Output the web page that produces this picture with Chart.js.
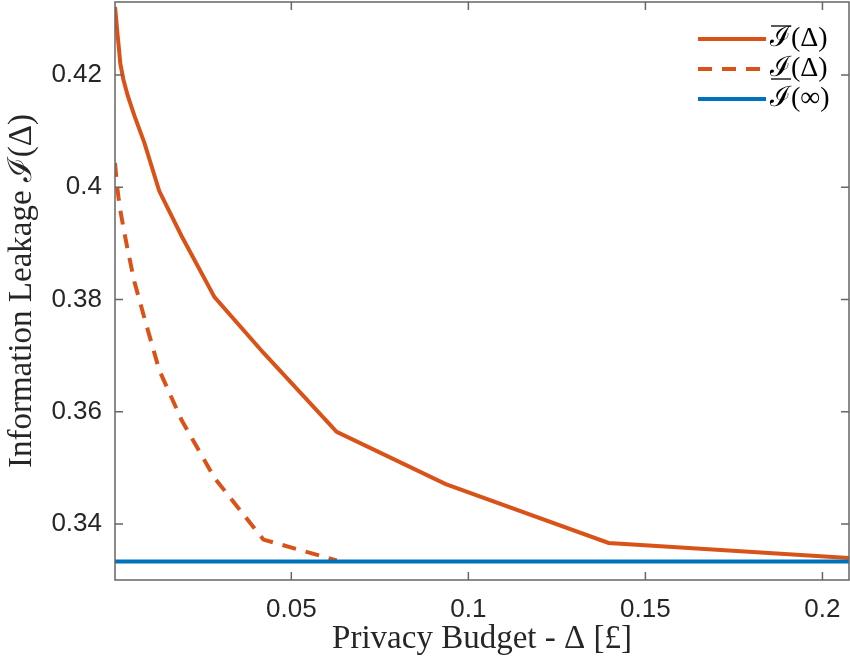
<!DOCTYPE html>
<html>
<head>
<meta charset="utf-8">
<script src="https://cdn.jsdelivr.net/npm/chart.js@4.4.0/dist/chart.umd.min.js"></script>
<style>
  html, body { margin: 0; padding: 0; background: #fff; }
  #wrap { width: 850px; height: 668px; }
</style>
</head>
<body>
<div id="wrap"><canvas id="leakChart"></canvas></div>
<script>
// privacy budget Δ (x) and leakage bounds
var budget = [0.0002, 0.0005, 0.0008, 0.0012, 0.0017, 0.0026, 0.0038, 0.0057, 0.0085,
              0.0127, 0.0190, 0.0283, 0.0421, 0.0628, 0.0936, 0.1396, 0.2075];
var upperLeak = [0.4321, 0.4302, 0.4280, 0.4254, 0.4220, 0.4191, 0.4163, 0.4127, 0.4079,
                 0.3993, 0.3913, 0.3804, 0.3705, 0.3564, 0.3471, 0.3366, 0.3339];
// lower bound merges into the limit after 0.0628 (hidden under the blue line)
var lowerLeak = [0.4043, 0.4022, 0.4002, 0.3981, 0.3959, 0.3927, 0.3888, 0.3831, 0.3767,
                 0.3674, 0.3585, 0.3482, 0.3372, 0.3335, null, null, null];
var limitLeak = [0.3333, 0.3333, 0.3333, 0.3333, 0.3333, 0.3333, 0.3333, 0.3333, 0.3333,
                 0.3333, 0.3333, 0.3333, 0.3333, 0.3333, 0.3333, 0.3333, 0.3333];

var seriesNames = ['ℐ(Δ)', 'ℐ(Δ)', 'ℐ(∞)'];
var seriesBars = ['over', 'under', ''];
var xTicks = [0.05, 0.1, 0.15, 0.2];
var yTicks = [0.34, 0.36, 0.38, 0.4, 0.42];

var orange = '#D95319';
var blue = '#0072BD';
var axisColor = '#666666';
var serif = "'Liberation Serif', 'DejaVu Serif', serif";
var sans = "'Liberation Sans', Arial, sans-serif";

function pts(ys) {
    return budget.map(function (b, i) { return { x: b, y: ys[i] }; });
}

// box around the plot with inward ticks on all four sides
var axesBox = {
    id: 'axesBox',
    afterDraw: function (chart) {
        var ctx = chart.ctx, a = chart.chartArea;
        var xs = chart.scales.x, ys = chart.scales.y;
        var tl = 8;
        ctx.save();
        ctx.strokeStyle = axisColor;
        ctx.lineWidth = 1.5;
        ctx.strokeRect(a.left, a.top, a.right - a.left, a.bottom - a.top);
        ctx.beginPath();
        xTicks.forEach(function (v) {
            var px = xs.getPixelForValue(v);
            ctx.moveTo(px, a.bottom); ctx.lineTo(px, a.bottom - tl);
            ctx.moveTo(px, a.top); ctx.lineTo(px, a.top + tl);
        });
        yTicks.forEach(function (v) {
            var py = ys.getPixelForValue(v);
            ctx.moveTo(a.left, py); ctx.lineTo(a.left + tl, py);
            ctx.moveTo(a.right, py); ctx.lineTo(a.right - tl, py);
        });
        ctx.stroke();
        ctx.restore();
    }
};

// legend in the top right corner, bar over / under the I
var barLegend = {
    id: 'barLegend',
    afterDraw: function (chart) {
        var ctx = chart.ctx, a = chart.chartArea;
        var x0 = a.right - 151, x1 = a.right - 83, tx = a.right - 79;
        ctx.save();
        ctx.font = '28px ' + serif;
        ctx.textBaseline = 'middle';
        chart.data.datasets.forEach(function (ds, i) {
            var y = a.top + 37 + i * 30;
            ctx.strokeStyle = ds.borderColor;
            ctx.lineWidth = ds.borderWidth;
            ctx.setLineDash(ds.borderDash || []);
            ctx.beginPath();
            ctx.moveTo(x0, y); ctx.lineTo(x1, y);
            ctx.stroke();
            ctx.setLineDash([]);
            ctx.fillStyle = '#000';
            ctx.fillText(seriesNames[i], tx, y);
            var w = ctx.measureText(seriesNames[i].charAt(0)).width;
            ctx.lineWidth = 1.3;
            ctx.strokeStyle = '#000';
            if (seriesBars[i] === 'over') {
                ctx.beginPath(); ctx.moveTo(tx + 1, y - 13); ctx.lineTo(tx + w, y - 13); ctx.stroke();
            } else if (seriesBars[i] === 'under') {
                ctx.beginPath(); ctx.moveTo(tx + 1, y + 10); ctx.lineTo(tx + w, y + 10); ctx.stroke();
            }
        });
        ctx.restore();
    }
};

new Chart(document.getElementById('leakChart'), {
    type: 'line',
    data: {
        datasets: [{
            label: seriesNames[0],
            data: pts(upperLeak),
            borderColor: orange,
            borderWidth: 4,
            order: 2
        }, {
            label: seriesNames[1],
            data: pts(lowerLeak),
            borderColor: orange,
            borderWidth: 4,
            borderDash: [14, 10],
            order: 1
        }, {
            label: seriesNames[2],
            data: pts(limitLeak),
            borderColor: blue,
            borderWidth: 4,
            order: 0
        }]
    },
    options: {
        responsive: true,
        maintainAspectRatio: false,
        animation: false,
        layout: { padding: { top: 2, right: 1, left: 0, bottom: 0 } },
        elements: { point: { radius: 0 }, line: { tension: 0, fill: false } },
        plugins: { legend: { display: false }, tooltip: { enabled: false } },
        scales: {
            x: {
                type: 'linear',
                min: budget[0],
                max: budget[budget.length - 1],
                grid: { display: false, drawTicks: false },
                border: { display: false },
                afterBuildTicks: function (s) { s.ticks = xTicks.map(function (v) { return { value: v }; }); },
                afterFit: function (s) { s.height = 88; s.paddingLeft = 0; s.paddingRight = 0; },
                ticks: {
                    padding: 14,
                    color: '#262626',
                    font: { family: sans, size: 26 },
                    callback: function (v) { return String(v); }
                },
                title: {
                    display: true,
                    text: 'Privacy Budget - Δ [£]',
                    color: '#262626',
                    font: { family: serif, size: 33 },
                    padding: { top: 0, bottom: 9 }
                }
            },
            y: {
                type: 'linear',
                min: 0.33,
                max: 0.433,
                grid: { display: false, drawTicks: false },
                border: { display: false },
                afterBuildTicks: function (s) { s.ticks = yTicks.map(function (v) { return { value: v }; }); },
                afterFit: function (s) { s.width = 115; s.paddingTop = 0; s.paddingBottom = 0; },
                ticks: {
                    padding: 13,
                    color: '#262626',
                    font: { family: sans, size: 26 },
                    callback: function (v) { return String(v); }
                },
                title: {
                    display: true,
                    text: 'Information Leakage ℐ(Δ)',
                    color: '#262626',
                    font: { family: serif, size: 33 },
                    padding: { top: 3, bottom: 0 }
                }
            }
        }
    },
    plugins: [axesBox, barLegend]
});
</script>
</body>
</html>
